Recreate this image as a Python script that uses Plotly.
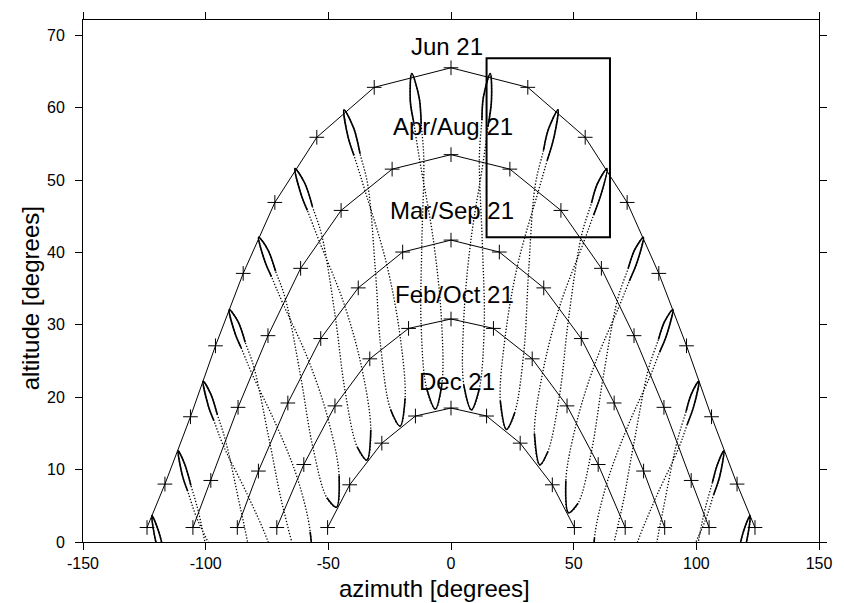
import plotly.graph_objects as go

# ---------------- sun-path curves (azimuth, altitude), hourly solar times + low end points
jun_az = [-123.9, -116.6, -106.2, -96.0, -84.7, -71.8, -54.7, -31.3, 0, 31.3, 54.7, 71.8, 84.7, 96.0, 106.2, 116.6, 123.9]
jun_alt = [2.0, 8.0, 17.3, 27.1, 37.1, 46.9, 55.9, 62.8, 65.5, 62.8, 55.9, 46.9, 37.1, 27.1, 17.3, 8.0, 2.0]
apr_az = [-105.2, -97.9, -86.8, -74.6, -61.3, -44.8, -24.0, 0, 24.0, 44.8, 61.3, 74.6, 86.8, 97.9, 105.2]
apr_alt = [2.0, 8.5, 18.6, 28.5, 37.8, 45.8, 51.5, 53.5, 51.5, 45.8, 37.8, 28.5, 18.6, 8.5, 2.0]
mar_az = [-87.1, -78.5, -66.5, -53.1, -37.8, -19.7, 0, 19.7, 37.8, 53.1, 66.5, 78.5, 87.1]
mar_alt = [2.0, 9.8, 19.2, 28.1, 35.1, 40.05, 41.7, 40.05, 35.1, 28.1, 19.2, 9.8, 2.0]
feb_az = [-71.0, -60.0, -47.3, -33.1, -17.3, 0, 17.3, 33.1, 47.3, 60.0, 71.0]
feb_alt = [2.0, 10.7, 18.8, 25.3, 29.5, 30.8, 29.5, 25.3, 18.8, 10.7, 2.0]
dec_az = [-50.3, -41.3, -28.2, -14.5, 0, 14.5, 28.2, 41.3, 50.3]
dec_alt = [2.0, 7.9, 13.65, 17.4, 18.5, 17.4, 13.65, 7.9, 2.0]

# ---------------- analemmas: read points around each figure-eight, starting at the June tip
# order: Jun tip, Jul, Aug(upper), Aug, Sep, Oct, Nov, Dec, Jan, Feb, Mar, Apr, May(upper), May
am1_x = [-16.0, -16.6, -15.2, -12.85, -7.1, -3.9, -3.7, -6.4, -10.0, -12.2, -11.9, -11.1, -12.15, -13.0]
am1_y = [64.7, 61.0, 58.0, 52.9, 41.5, 30.75, 21.8, 18.35, 21.3, 30.2, 41.1, 53.1, 57.7, 61.4]
am2_x = [-43.6, -42.0, -39.55, -35.4, -26.4, -20.9, -18.7, -20.75, -24.65, -28.6, -30.8, -33.9, -37.05, -39.6]
am2_y = [59.7, 56.0, 53.4, 48.9, 38.6, 28.8, 19.85, 16.0, 18.3, 26.8, 37.4, 49.3, 53.6, 57.1]
am3_x = [-63.6, -61.2, -58.55, -54.0, -43.5, -36.35, -32.7, -34.3, -38.2, -43.2, -47.2, -52.7, -56.5, -59.6]
am3_y = [51.6, 48.1, 45.8, 41.8, 32.8, 24.0, 15.5, 11.3, 13.1, 20.9, 31.2, 42.4, 46.35, 49.55]
am4_x = [-78.4, -75.9, -73.2, -68.6, -58.1, -50.2, -45.6, -46.7, -50.6, -56.4, -61.3, -67.6, -71.5, -74.7]
am4_y = [42.1, 38.8, 36.65, 33.0, 25.1, 17.1, 9.2, 4.8, 6.1, 13.25, 22.9, 33.7, 37.4, 40.4]
am5_x = [-90.4, -88.0, -85.5, -81.2, -70.9, -62.6, -57.4, -57.4, -62.0, -68.2, -73.8, -80.3, -83.9, -86.9]
am5_y = [32.1, 28.8, 26.8, 23.3, 15.9, 8.8, 1.4, -3.1, -2.2, 4.4, 13.6, 24.1, 27.6, 30.5]
am6_x = [-101.0, -99.0, -96.7, -92.7, -82.65, -74.0, -68.3, -68.2, -72.8, -79.3, -85.4, -91.9, -95.25, -98.0]
am6_y = [22.2, 18.9, 16.8, 13.25, 6.3, -0.5, -7.5, -11.9, -11.4, -5.2, 4.0, 14.0, 17.6, 20.5]
am7_x = [-111.2, -109.5, -107.35, -103.7, -94.0, -85.0, -90.3, -96.75, -102.9, -106.0, -108.6]
am7_y = [12.6, 9.2, 7.05, 3.4, -3.5, -10.4, -15.2, -5.9, 4.1, 7.8, 10.8]
am8_x = [-121.9, -120.4, -118.3, -114.7, -105.3, -108.0, -113.9, -116.9, -119.3]
am8_y = [3.65, 0.15, -2.1, -5.9, -13.4, -15.8, -5.2, -1.5, 1.6]

pm1_x = [16.0, 13.2, 12.6, 11.55, 12.8, 13.55, 11.5, 8.3, 5.2, 5.2, 8.0, 13.3, 15.05, 16.5]
pm1_y = [64.7, 61.4, 58.3, 53.0, 41.0, 30.0, 21.1, 18.25, 21.7, 30.7, 41.4, 52.9, 57.35, 61.0]
pm2_x = [43.6, 39.7, 37.7, 34.3, 31.6, 29.75, 26.0, 22.6, 20.1, 22.15, 27.25, 35.85, 39.2, 42.0]
pm2_y = [59.7, 57.0, 54.1, 49.2, 37.2, 26.45, 17.9, 15.55, 19.5, 28.5, 38.4, 48.75, 52.7, 55.95]
pm3_x = [63.6, 59.7, 57.25, 53.1, 47.9, 44.3, 39.5, 36.2, 34.0, 37.5, 44.25, 54.3, 58.1, 61.2]
pm3_y = [51.6, 49.5, 46.8, 42.2, 30.8, 20.4, 12.5, 10.65, 15.0, 23.6, 32.5, 41.6, 45.15, 48.05]
pm4_x = [78.4, 74.8, 72.25, 67.9, 61.9, 57.3, 51.8, 47.9, 46.8, 51.2, 58.7, 68.85, 72.7, 75.9]
pm4_y = [42.1, 40.3, 37.8, 33.5, 22.5, 12.6, 5.35, 4.05, 8.5, 16.5, 24.65, 32.8, 36.05, 38.7]
pm5_x = [90.4, 87.0, 84.6, 80.5, 74.3, 69.0, 63.1, 58.7, 58.5, 63.5, 71.45, 81.4, 85.0, 88.0]
pm5_y = [32.1, 30.4, 28.0, 23.9, 13.2, 3.7, -3.1, -4.1, 0.6, 8.1, 15.5, 23.1, 26.2, 28.7]
pm6_x = [101.0, 98.0, 95.8, 92.1, 85.9, 80.2, 73.9, 69.3, 69.4, 74.8, 83.2, 92.9, 96.25, 99.0]
pm6_y = [22.2, 20.45, 18.0, 13.8, 3.5, -6.0, -12.3, -12.9, -8.4, -1.2, 5.9, 13.05, 16.2, 18.8]
pm7_x = [111.2, 108.6, 106.55, 103.1, 97.3, 91.2, 85.9, 94.55, 103.9, 107.0, 109.6]
pm7_y = [12.6, 10.7, 8.2, 3.9, -6.35, -16.0, -11.2, -4.0, 3.2, 6.5, 9.15]
pm8_x = [121.9, 119.3, 117.4, 114.1, 108.5, 105.8, 114.9, 118.0, 120.5]
pm8_y = [3.65, 1.55, -1.0, -5.4, -16.3, -13.9, -6.1, -2.7, 0.1]

date_labels = ["Jun 21", "Apr/Aug 21", "Mar/Sep 21", "Feb/Oct 21", "Dec 21"]
label_x = [-1.5, 1.0, 0.3, 1.3, 2.6]
label_y = [68.45, 57.35, 45.8, 34.2, 22.2]

box_x = [14.5, 64.8]
box_y = [42.1, 66.8]

x_ticks = [-150, -100, -50, 0, 50, 100, 150]
x_tick_text = ["-150", "-100", "-50", "0", "50", "100", "150"]
y_ticks = [0, 10, 20, 30, 40, 50, 60, 70]

FONT = "Liberation Sans, Arial, sans-serif"
fig = go.Figure()

analemmas = [(am1_x, am1_y), (am2_x, am2_y), (am3_x, am3_y), (am4_x, am4_y),
             (am5_x, am5_y), (am6_x, am6_y), (am7_x, am7_y), (am8_x, am8_y),
             (pm1_x, pm1_y), (pm2_x, pm2_y), (pm3_x, pm3_y), (pm4_x, pm4_y),
             (pm5_x, pm5_y), (pm6_x, pm6_y), (pm7_x, pm7_y), (pm8_x, pm8_y)]

solid = dict(shape="spline", color="black", width=1.6)
for xs, ys in analemmas:
    fig.add_trace(go.Scatter(x=xs + [xs[0]], y=ys + [ys[0]], mode="lines",
                             line=dict(shape="spline", color="black", width=1.3, dash="1.3px,1.8px"),
                             hoverinfo="skip", showlegend=False))
    # June end: points appear dense enough to form a solid loop
    fig.add_trace(go.Scatter(x=[xs[-2], xs[-1], xs[0], xs[1], xs[2]],
                             y=[ys[-2], ys[-1], ys[0], ys[1], ys[2]], mode="lines",
                             line=solid, hoverinfo="skip", showlegend=False))
    # December end
    if len(xs) == 14:
        fig.add_trace(go.Scatter(x=xs[6:9], y=ys[6:9], mode="lines",
                                 line=solid, hoverinfo="skip", showlegend=False))

for xs, ys in [(jun_az, jun_alt), (apr_az, apr_alt), (mar_az, mar_alt), (feb_az, feb_alt), (dec_az, dec_alt)]:
    fig.add_trace(go.Scatter(x=xs, y=ys, mode="lines+markers",
                             line=dict(color="black", width=1),
                             marker=dict(symbol="cross-thin", size=10.5, color="black",
                                         line=dict(color="black", width=1)),
                             hoverinfo="skip", showlegend=False))

fig.add_shape(type="rect", x0=box_x[0], x1=box_x[1], y0=box_y[0], y1=box_y[1],
              line=dict(color="black", width=2))

for t, lx, ly in zip(date_labels, label_x, label_y):
    fig.add_annotation(x=lx, y=ly, text=t, showarrow=False, xanchor="center", yanchor="middle",
                       font=dict(family=FONT, size=24, color="black"))

fig.add_annotation(xref="paper", yref="paper", x=0.5, y=0, xshift=-17, yshift=-46,
                   text="azimuth [degrees]", showarrow=False, xanchor="center", yanchor="middle",
                   font=dict(family=FONT, size=24, color="black"))
fig.add_annotation(xref="paper", yref="paper", x=0, y=0.467, xshift=-53,
                   text="altitude [degrees]", textangle=-90, showarrow=False,
                   xanchor="center", yanchor="middle",
                   font=dict(family=FONT, size=24, color="black"))

axis_common = dict(showline=True, linecolor="black", linewidth=1, mirror="ticks",
                   ticks="outside", ticklen=7, tickwidth=1, tickcolor="black",
                   showgrid=False, zeroline=False,
                   tickfont=dict(family=FONT, size=16, color="black"))
fig.update_xaxes(range=[-150, 150], tickvals=x_ticks, ticktext=x_tick_text,
                 ticklabelstandoff=0, **axis_common)
fig.update_yaxes(range=[0, 72.1], tickvals=y_ticks, ticklabelstandoff=7, **axis_common)

fig.update_layout(width=844, height=603, margin=dict(l=83, r=13, t=15, b=61),
                  plot_bgcolor="white", paper_bgcolor="white", showlegend=False,
                  font=dict(family=FONT))

fig.write_html("out.html")
